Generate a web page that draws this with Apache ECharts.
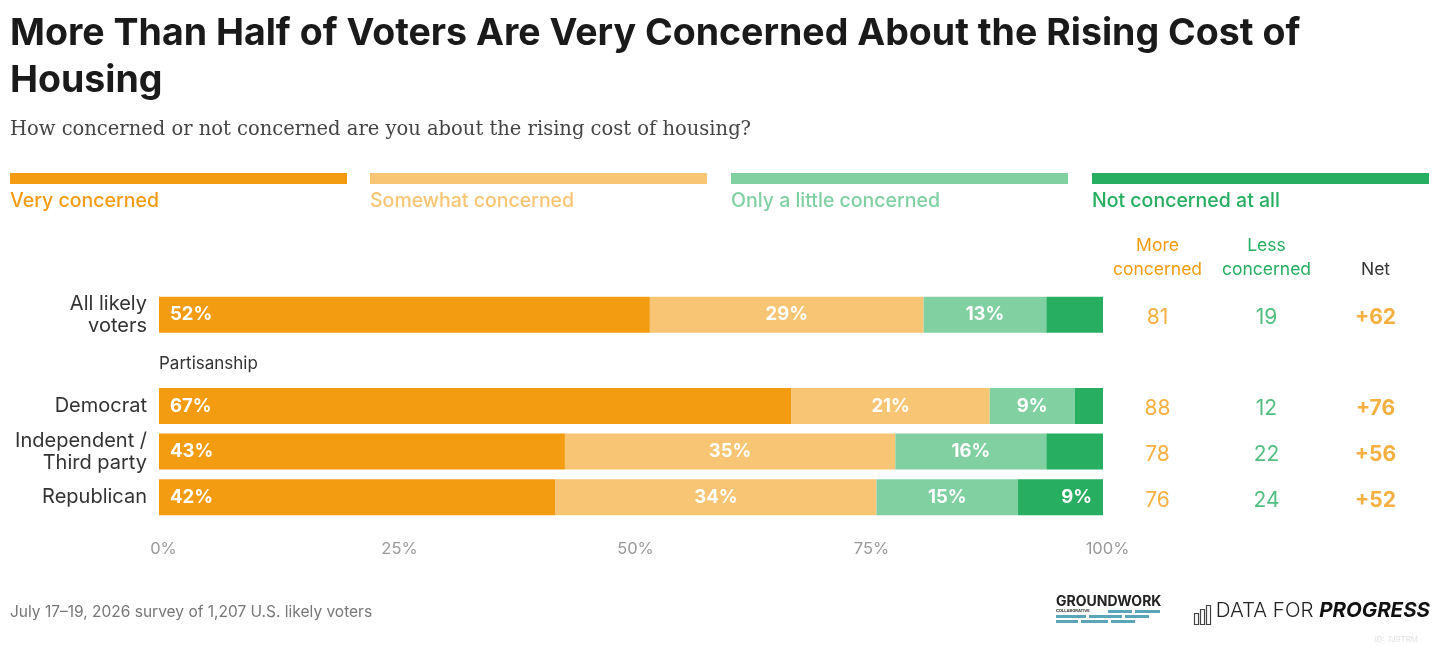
<!DOCTYPE html>
<html>
<head>
<meta charset="utf-8">
<script src="https://cdn.jsdelivr.net/npm/echarts@6/dist/echarts.min.js"></script>
<style>
  html, body { margin: 0; padding: 0; background: #fff; }
  #chart { width: 1440px; height: 645px; }
</style>
</head>
<body>
<div id="chart"></div>
<script>
// rows (the blank one is the gap that holds "Partisanship")
var categories = ['All likely\nvoters', '', 'Democrat', 'Independent /\nThird party', 'Republican'];
var seriesNames = ['Very concerned', 'Somewhat concerned', 'Only a little concerned', 'Not concerned at all'];
var colors = ['#F39C12', '#F8C574', '#80D0A2', '#27AE60'];

var veryConcerned = [52, null, 67, 43, 42];
var somewhatConcerned = [29, null, 21, 35, 34];
var littleConcerned = [13, null, 9, 16, 15];
var notConcerned = [6, null, 3, 6, 9];

var columnNames = ['More\nconcerned', 'Less\nconcerned', 'Net'];
var moreConcerned = [81, null, 88, 78, 76];
var lessConcerned = [19, null, 12, 22, 24];
var netValues = ['+62', null, '+76', '+56', '+52'];

var xTicks = [0, 25, 50, 75, 100];

var FONT = 'Inter';
var chart = echarts.init(document.getElementById('chart'));

var barData = [veryConcerned, somewhatConcerned, littleConcerned, notConcerned];
var series = barData.map(function (d, k) {
  return {
    name: seriesNames[k],
    type: 'bar',
    stack: 'total',
    barWidth: 36,
    xAxisIndex: 0,
    yAxisIndex: 0,
    data: d,
    itemStyle: { color: colors[k] },
    label: {
      show: true,
      position: k == 0 ? 'insideLeft' : (k == 3 ? 'insideRight' : 'inside'),
      distance: 11,
      color: '#fff',
      fontFamily: FONT,
      fontWeight: 'bold',
      fontSize: 18.5,
      formatter: function (p) {
        return p.value >= 8 ? p.value + '%' : '';
      }
    }
  };
});

// right-hand columns, placed on a second grid with category axes
var colData = [moreConcerned, lessConcerned, netValues];
var colColors = ['#F39C12', '#27AE60', '#F39C12'];
colData.forEach(function (d, c) {
  var pts = [];
  d.forEach(function (v, i) {
    if (v !== null) pts.push([c, i, v]);
  });
  series.push({
    type: 'scatter',
    xAxisIndex: 1,
    yAxisIndex: 1,
    symbolSize: 0,
    data: pts,
    silent: true,
    label: {
      show: true,
      position: 'inside',
      offset: [0, 3],
      color: colColors[c],
      fontFamily: FONT,
      fontSize: 21,
      fontWeight: c == 2 ? 'bold' : 'normal',
      formatter: function (p) { return p.value[2]; }
    }
  });
});

// legend drawn as wide swatches with text underneath
var graphics = [];
var legLeft = [10, 370, 731, 1092];
seriesNames.forEach(function (n, k) {
  graphics.push({
    type: 'rect', left: legLeft[k], top: 173,
    shape: { width: 337, height: 11 },
    style: { fill: colors[k] }
  });
  graphics.push({
    type: 'text', left: legLeft[k], top: 191,
    style: { text: n, fill: colors[k], font: '500 19.5px ' + FONT }
  });
});
graphics.push({
  type: 'text', left: 159, top: 355,
  style: { text: 'Partisanship', fill: '#333', font: '17px ' + FONT }
});
graphics.push({
  type: 'text', left: 10, top: 604,
  style: { text: 'July 17\u201319, 2026 survey of 1,207 U.S. likely voters', fill: '#777', font: '15.5px ' + FONT }
});
// Groundwork logo
graphics.push({
  type: 'text', left: 1056, top: 595,
  style: { text: 'GROUNDWORK', fill: '#222', font: 'bold 14px ' + FONT }
});
graphics.push({
  type: 'text', left: 1056, top: 609,
  style: { text: 'COLLABORATIVE', fill: '#333', font: 'bold 4px ' + FONT }
});
[[1108, 610, 24], [1135, 610, 25], [1056, 615, 30], [1089, 615, 33], [1125, 615, 24],
 [1056, 620, 22], [1081, 620, 27], [1111, 620, 24]].forEach(function (b) {
  graphics.push({
    type: 'rect', left: b[0], top: b[1],
    shape: { width: b[2], height: 3 },
    style: { fill: '#5AA5B8' }
  });
});
// Data for Progress logo
[[1192, 611, 11], [1198, 607, 15], [1204, 603, 19]].forEach(function (b) {
  graphics.push({
    type: 'rect', left: b[0], top: b[1],
    shape: { width: 4, height: b[2] },
    style: { fill: 'none', stroke: '#444', lineWidth: 1.2 }
  });
});
graphics.push({
  type: 'text', right: 10, top: 600,
  style: {
    text: '{a|DATA FOR }{b|PROGRESS}',
    rich: {
      a: { fontFamily: FONT, fontSize: 20.5, fontWeight: 300, fill: '#222', color: '#222' },
      b: { fontFamily: FONT, fontSize: 20.5, fontWeight: 'bold', fontStyle: 'italic', fill: '#111', color: '#111' }
    }
  }
});
graphics.push({
  type: 'text', right: 22, top: 636,
  style: { text: 'ID: 7J9TRM', fill: '#e2e2e2', font: '8px ' + FONT }
});

var option = {
  backgroundColor: '#fff',
  animation: false,
  title: [
    {
      text: 'More Than Half of Voters Are Very Concerned About the Rising Cost of\nHousing',
      left: 10,
      top: 10,
      padding: 0,
      textStyle: { fontFamily: FONT, fontWeight: 'bold', fontSize: 37.5, color: '#1a1a1a', lineHeight: 47 }
    },
    {
      text: 'How concerned or not concerned are you about the rising cost of housing?',
      left: 10,
      top: 118,
      padding: 0,
      textStyle: { fontFamily: 'DejaVu Serif', fontWeight: 'normal', fontSize: 19.5, color: '#444', lineHeight: 24 }
    }
  ],
  grid: [
    { left: 159, right: 337, top: 292, height: 228 },
    { left: 1103, right: 10, top: 292, height: 228 }
  ],
  xAxis: [
    {
      type: 'value',
      gridIndex: 0,
      min: 0,
      max: 100,
      interval: 25,
      splitLine: { show: false },
      axisLine: { show: false },
      axisTick: { show: false },
      axisLabel: {
        margin: 21,
        padding: [0, 0, 0, 9],
        color: '#999',
        fontFamily: FONT,
        fontSize: 16.5,
        formatter: function (v) { return xTicks.indexOf(v) >= 0 ? v + '%' : ''; }
      }
    },
    {
      type: 'category',
      gridIndex: 1,
      position: 'top',
      data: columnNames,
      axisLine: { show: false },
      axisTick: { show: false },
      axisLabel: {
        interval: 0,
        margin: 10,
        fontFamily: FONT,
        fontSize: 17.5,
        lineHeight: 24,
        formatter: function (v, i) {
          var tag = ['m', 'l', 'n'][i];
          return v.split('\n').map(function (s) { return '{' + tag + '|' + s + '}'; }).join('\n');
        },
        rich: {
          m: { color: '#F39C12', fontFamily: FONT, fontSize: 17.5, lineHeight: 24 },
          l: { color: '#27AE60', fontFamily: FONT, fontSize: 17.5, lineHeight: 24 },
          n: { color: '#333', fontFamily: FONT, fontSize: 17.5, lineHeight: 24 }
        }
      }
    }
  ],
  yAxis: [
    {
      type: 'category',
      gridIndex: 0,
      inverse: true,
      data: categories,
      axisLine: { show: false },
      axisTick: { show: false },
      axisLabel: {
        margin: 12,
        color: '#333',
        fontFamily: FONT,
        fontSize: 20,
        lineHeight: 22
      }
    },
    {
      type: 'category',
      gridIndex: 1,
      inverse: true,
      data: categories,
      axisLine: { show: false },
      axisTick: { show: false },
      axisLabel: { show: false }
    }
  ],
  graphic: graphics,
  series: series
};

chart.setOption(option);
</script>
</body>
</html>
